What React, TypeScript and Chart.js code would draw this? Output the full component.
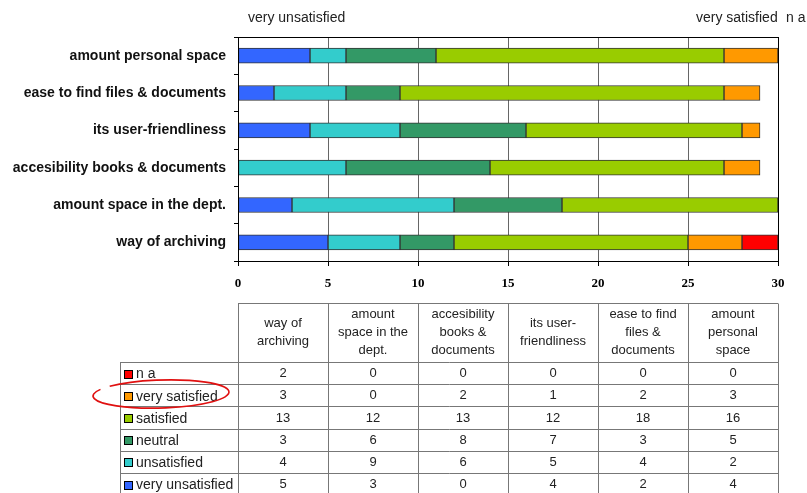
import React, { useEffect, useRef } from "react";
import { Chart, registerables } from "chart.js";

Chart.register(...registerables);

const categories = [
  "way of archiving",
  "amount space in the dept.",
  "accesibility books & documents",
  "its user-friendliness",
  "ease to find files & documents",
  "amount personal space",
];
const headerLines = [
  ["way of", "archiving"],
  ["amount", "space in the", "dept."],
  ["accesibility", "books &", "documents"],
  ["its user-", "friendliness"],
  ["ease to find", "files &", "documents"],
  ["amount", "personal", "space"],
];
const veryUnsatisfied = [5, 3, 0, 4, 2, 4];
const unsatisfied = [4, 9, 6, 5, 4, 2];
const neutral = [3, 6, 8, 7, 3, 5];
const satisfied = [13, 12, 13, 12, 18, 16];
const verySatisfied = [3, 0, 2, 1, 2, 3];
const notApplicable = [2, 0, 0, 0, 0, 0];
const seriesNames = ["very unsatisfied", "unsatisfied", "neutral", "satisfied", "very satisfied", "n a"];
const seriesValues = [veryUnsatisfied, unsatisfied, neutral, satisfied, verySatisfied, notApplicable];
const seriesColors = ["#3366ff", "#33cccc", "#339966", "#99cc00", "#ff9900", "#ff0000"];
const topLabels = [
  { text: "very unsatisfied", x: 248 },
  { text: "very satisfied", x: 696 },
  { text: "n a", x: 786 },
];

const SANS = "'Liberation Sans', Arial, sans-serif";
const SERIF = "'Liberation Serif', 'Times New Roman', serif";

const extrasPlugin = {
  id: "extras",
  afterDraw(chart: any) {
    const ctx = chart.ctx as CanvasRenderingContext2D;
    const a = chart.chartArea;
    ctx.save();
    // plot border
    ctx.strokeStyle = "#000";
    ctx.lineWidth = 1;
    ctx.strokeRect(Math.round(a.left) + 0.5, Math.round(a.top) + 0.5, Math.round(a.right - a.left), Math.round(a.bottom - a.top));

    // top labels
    ctx.fillStyle = "#222";
    ctx.font = "14px " + SANS;
    ctx.textBaseline = "middle";
    ctx.textAlign = "left";
    topLabels.forEach((t) => ctx.fillText(t.text, t.x, 18));

    // data table
    const n = categories.length;
    const colW = (a.right - a.left) / n;
    const headTop = 303.5;
    const headBottom = 362;
    const rowH = 22.2;
    const legendLeft = 120.5;
    const rows = seriesNames.length;
    const tableBottom = headBottom + rows * rowH;
    ctx.strokeStyle = "#777";
    ctx.lineWidth = 1;
    ctx.beginPath();
    ctx.moveTo(a.left, headTop);
    ctx.lineTo(a.right, headTop);
    for (let r = 0; r <= rows; r++) {
      const y = Math.round(headBottom + r * rowH) + 0.5;
      ctx.moveTo(legendLeft, y);
      ctx.lineTo(a.right, y);
    }
    ctx.moveTo(legendLeft, headBottom);
    ctx.lineTo(legendLeft, tableBottom);
    for (let c = 0; c <= n; c++) {
      const x = Math.round(a.left + c * colW) + 0.5;
      ctx.moveTo(x, headTop);
      ctx.lineTo(x, tableBottom);
    }
    ctx.stroke();

    ctx.fillStyle = "#222";
    ctx.font = "13px " + SANS;
    ctx.textAlign = "center";
    const lineH = 18;
    headerLines.forEach((lines, c) => {
      const cx = a.left + (c + 0.5) * colW;
      const cy = (headTop + headBottom) / 2;
      const y0 = cy - ((lines.length - 1) * lineH) / 2;
      lines.forEach((ln, i) => ctx.fillText(ln, cx, y0 + i * lineH));
    });

    for (let r = 0; r < rows; r++) {
      const s = rows - 1 - r;
      const cy = headBottom + (r + 0.5) * rowH + 0.5;
      ctx.textAlign = "center";
      ctx.fillStyle = "#222";
      ctx.font = "13px " + SANS;
      seriesValues[s].forEach((v, c) => {
        ctx.fillText(String(v), a.left + (c + 0.5) * colW, cy);
      });
      // legend key
      ctx.fillStyle = seriesColors[s];
      ctx.fillRect(124.5, Math.round(cy - 4) + 0.5, 8, 8);
      ctx.strokeStyle = "#000";
      ctx.strokeRect(124.5, Math.round(cy - 4) + 0.5, 8, 8);
      ctx.fillStyle = "#222";
      ctx.textAlign = "left";
      ctx.font = "14px " + SANS;
      ctx.fillText(seriesNames[s], 136, cy + 1);
    }

    // red hand-drawn ellipse
    ctx.strokeStyle = "#e01010";
    ctx.lineWidth = 1.6;
    ctx.beginPath();
    ctx.ellipse(161, 394, 68, 14, -0.03, -2.42, 3.62);
    ctx.stroke();
    ctx.restore();
  },
};

export default function App() {
  const ref = useRef<HTMLCanvasElement | null>(null);
  useEffect(() => {
    if (!ref.current) return;
    const chart = new Chart(ref.current, {
      type: "bar",
      data: {
        labels: categories,
        datasets: seriesNames.map((name, i) => ({
          label: name,
          data: seriesValues[i],
          backgroundColor: seriesColors[i],
          borderColor: "#333",
          borderWidth: 1,
          borderSkipped: false,
          barThickness: 15,
        })),
      },
      options: {
        indexAxis: "y",
        responsive: false,
        animation: false,
        layout: { padding: { top: 37, right: 29, bottom: 202, left: 0 } },
        plugins: { legend: { display: false }, tooltip: { enabled: false } },
        scales: {
          x: {
            stacked: true,
            min: 0,
            max: 30,
            ticks: {
              stepSize: 5,
              color: "#000",
              padding: 10,
              font: { family: SERIF, size: 13, weight: "bold" },
            },
            grid: { color: "#666", tickColor: "#000", tickLength: 5 },
            border: { color: "#000" },
            afterFit: (s: any) => {
              s.height = 30;
            },
          },
          y: {
            stacked: true,
            reverse: true,
            ticks: {
              color: "#111",
              padding: 8,
              font: { family: SANS, size: 14, weight: "bold" },
            },
            grid: { drawOnChartArea: false, tickColor: "#000", tickLength: 4 },
            border: { color: "#000" },
            afterFit: (s: any) => {
              s.width = 238;
            },
          },
        },
      },
      plugins: [extrasPlugin],
    } as any);
    return () => chart.destroy();
  }, []);
  return (
    <div style={{ position: "absolute", left: 0, top: 0, width: 807, height: 493, background: "#fff" }}>
      <canvas ref={ref} width={807} height={493} style={{ display: "block" }} />
    </div>
  );
}
